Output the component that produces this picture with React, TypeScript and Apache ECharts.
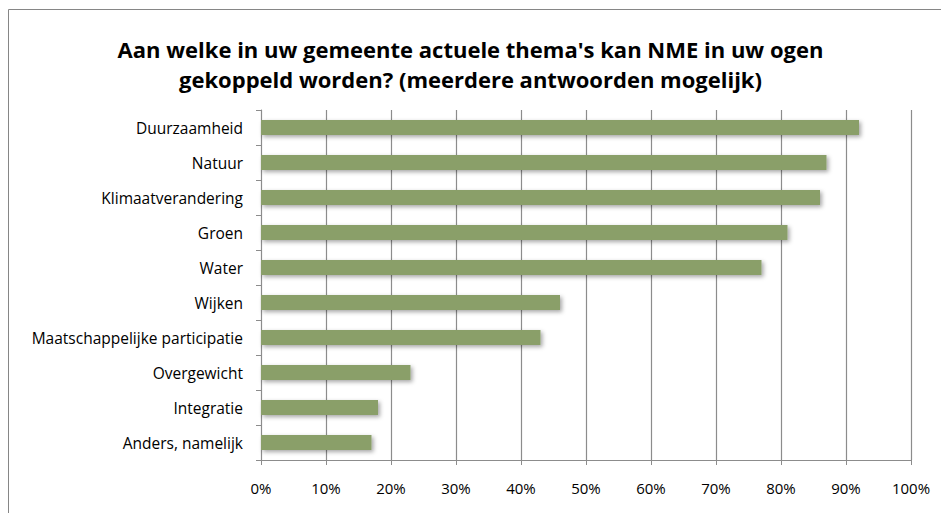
import React, { useEffect, useRef } from "react";
import * as echarts from "echarts";

const titleText =
  "Aan welke in uw gemeente actuele thema's kan NME in uw ogen\ngekoppeld worden? (meerdere antwoorden mogelijk)";

const categories = [
  "Duurzaamheid",
  "Natuur",
  "Klimaatverandering",
  "Groen",
  "Water",
  "Wijken",
  "Maatschappelijke participatie",
  "Overgewicht",
  "Integratie",
  "Anders, namelijk",
];

const values = [92, 87, 86, 81, 77, 46, 43, 23, 18, 17];

const xTicks = [0, 10, 20, 30, 40, 50, 60, 70, 80, 90, 100];

export default function App() {
  const ref = useRef<HTMLDivElement>(null);

  useEffect(() => {
    if (!ref.current) return;
    const chart = echarts.init(ref.current, null, { renderer: "svg" });
    const font = "'Open Sans', 'Noto Sans', sans-serif";
    chart.setOption({
      animation: false,
      backgroundColor: "#ffffff",
      graphic: [
        {
          type: "rect",
          shape: { x: 8.5, y: 9.5, width: 960, height: 540 },
          style: { fill: "none", stroke: "#868686", lineWidth: 1 },
          silent: true,
        },
      ],
      title: {
        text: titleText,
        left: "center",
        top: 29,
        textStyle: {
          fontFamily: font,
          fontWeight: "bold",
          fontSize: 22,
          lineHeight: 30,
          color: "#000000",
        },
      },
      grid: { left: 261, right: 30, top: 110, bottom: 53 },
      xAxis: {
        type: "value",
        min: 0,
        max: 100,
        interval: 10,
        axisLine: { show: true, lineStyle: { color: "#8c8c8c", width: 1 } },
        axisTick: { show: true, length: 5, lineStyle: { color: "#8c8c8c" } },
        splitLine: { show: true, lineStyle: { color: "#8c8c8c", width: 1.2 } },
        axisLabel: {
          margin: 20,
          fontFamily: font,
          fontSize: 15,
          color: "#000000",
          formatter: (v: number) => (xTicks.includes(v) ? v + "%" : ""),
        },
      },
      yAxis: {
        type: "category",
        data: categories,
        inverse: true,
        axisLine: { show: true, lineStyle: { color: "#8c8c8c", width: 1 } },
        axisTick: { show: true, length: 5, lineStyle: { color: "#8c8c8c" } },
        axisLabel: {
          margin: 18,
          fontFamily: font,
          fontSize: 15.5,
          color: "#000000",
        },
      },
      series: [
        {
          type: "bar",
          data: values,
          barWidth: 15,
          itemStyle: {
            color: "#8a9f69",
            shadowColor: "rgba(0,0,0,0.35)",
            shadowBlur: 4,
            shadowOffsetX: 2,
            shadowOffsetY: 2,
          },
        },
      ],
    });
    return () => chart.dispose();
  }, []);

  return (
    <div
      ref={ref}
      style={{ position: "absolute", left: 0, top: 0, width: 941, height: 513 }}
    />
  );
}
